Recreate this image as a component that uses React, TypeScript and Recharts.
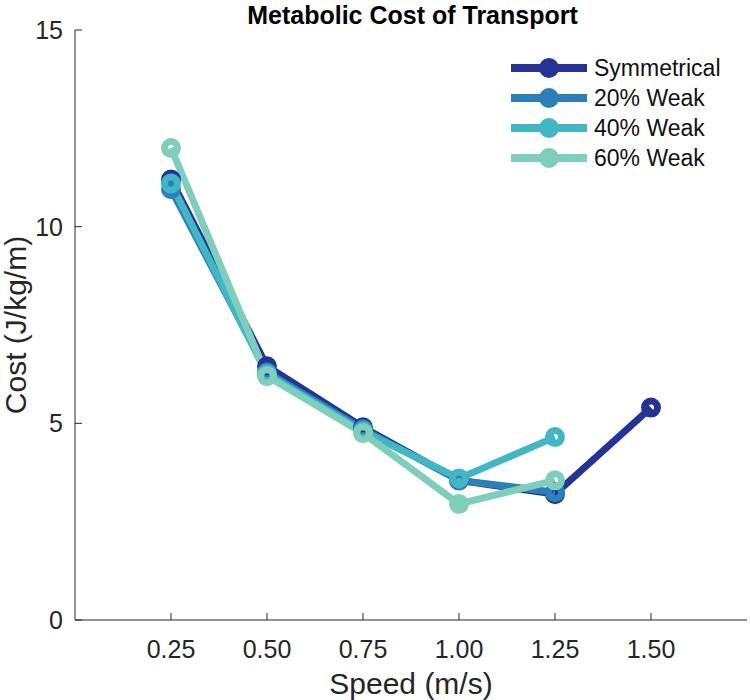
import { LineChart, Line, XAxis, YAxis } from "recharts";

const speeds = [0.25, 0.5, 0.75, 1.0, 1.25, 1.5];
const symmetrical = [11.2, 6.45, 4.9, 3.55, 3.2, 5.4];
const weak20 = [10.95, 6.3, 4.85, 3.55, 3.25, null];
const weak40 = [11.1, 6.25, 4.8, 3.6, 4.65, null];
const weak60 = [12.0, 6.2, 4.75, 2.95, 3.55, null];

const xTicks = [0.25, 0.5, 0.75, 1.0, 1.25, 1.5];
const yTicks = [0, 5, 10, 15];

const series = [
  { key: "sym", name: "Symmetrical", color: "#253494", values: symmetrical },
  { key: "w20", name: "20% Weak", color: "#2c7fb8", values: weak20 },
  { key: "w40", name: "40% Weak", color: "#41b6c4", values: weak40 },
  { key: "w60", name: "60% Weak", color: "#7fcdbb", values: weak60 },
];

const data = speeds.map((s, i) => {
  const row: Record<string, number | null> = { speed: s };
  series.forEach((sr) => (row[sr.key] = sr.values[i]));
  return row;
});

const font = "'Liberation Sans', Arial, Helvetica, sans-serif";
const axisColor = "#262626";

const XTick = (props: any) => {
  const { x, y, payload } = props;
  return (
    <g>
      <line x1={x} y1={y} x2={x} y2={y - 7} stroke={axisColor} />
      <text x={x} y={y + 38} textAnchor="middle" fill={axisColor} fontSize={25} fontFamily={font}>
        {Number(payload.value).toFixed(2)}
      </text>
    </g>
  );
};

const YTick = (props: any) => {
  const { x, y, payload } = props;
  return (
    <g>
      <line x1={x} y1={y} x2={x + 7} y2={y} stroke={axisColor} />
      <text x={x - 12} y={y + 9} textAnchor="end" fill={axisColor} fontSize={25} fontFamily={font}>
        {payload.value}
      </text>
    </g>
  );
};

// legend drawn as an overlay, so it does not take space from the plot
const LegendBox = () => (
  <svg width={240} height={120} style={{ position: "absolute", left: 505, top: 55 }}>
    {series.map((s, i) => {
      const cy = 13 + i * 30;
      return (
        <g key={s.key}>
          <line x1={6} y1={cy} x2={82} y2={cy} stroke={s.color} strokeWidth={8} />
          <circle cx={44} cy={cy} r={6.5} fill="none" stroke={s.color} strokeWidth={7} />
          <text x={89} y={cy + 8} fontSize={23} fontFamily={font} fill="#111">
            {s.name}
          </text>
        </g>
      );
    })}
  </svg>
);

export default function App() {
  return (
    <div style={{ position: "absolute", left: 0, top: 0, width: 750, height: 700, background: "#fff" }}>
      <LineChart width={750} height={700} data={data} margin={{ top: 30, right: 3, left: 0, bottom: 0 }}>
        <XAxis
          dataKey="speed"
          type="number"
          domain={[0, 1.75]}
          ticks={xTicks}
          height={80}
          tickSize={0}
          tickMargin={0}
          tick={<XTick />}
          stroke={axisColor}
          label={{ value: "Speed (m/s)", position: "center", dy: 23, fontSize: 30, fontFamily: font, fill: axisColor }}
        />
        <YAxis
          type="number"
          domain={[0, 15]}
          ticks={yTicks}
          width={75}
          tickSize={0}
          tickMargin={0}
          tick={<YTick />}
          stroke={axisColor}
          label={{ value: "Cost (J/kg/m)", angle: -90, position: "center", dx: -22, fontSize: 30, fontFamily: font, fill: axisColor }}
        />
        {series.map((s) => (
          <Line
            key={s.key}
            dataKey={s.key}
            name={s.name}
            stroke={s.color}
            strokeWidth={7}
            dot={{ r: 6.5, fill: "none", stroke: s.color, strokeWidth: 7 }}
            activeDot={false}
            isAnimationActive={false}
          />
        ))}
      </LineChart>
      <div
        style={{
          position: "absolute",
          left: 75,
          width: 675,
          top: 2,
          textAlign: "center",
          fontFamily: font,
          fontWeight: "bold",
          fontSize: 25,
          lineHeight: "26px",
          color: "#000",
        }}
      >
        Metabolic Cost of Transport
      </div>
      <LegendBox />
    </div>
  );
}
